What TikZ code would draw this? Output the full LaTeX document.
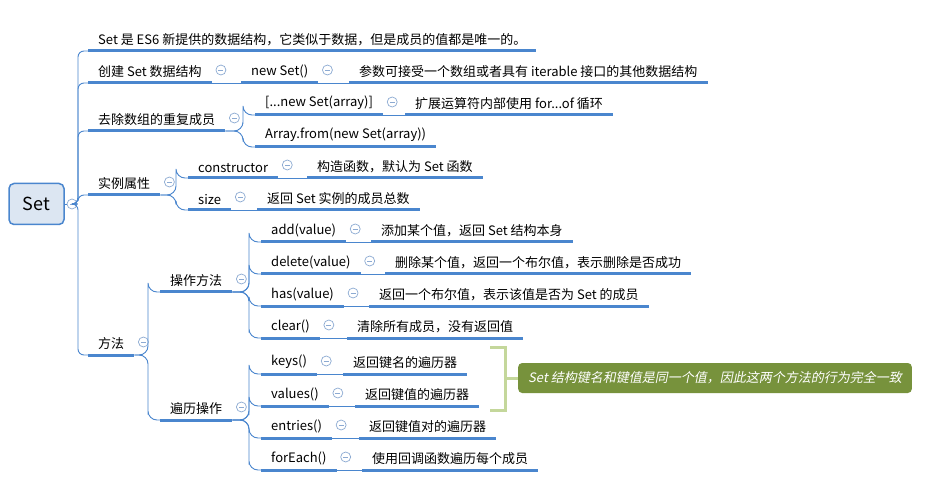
\documentclass[tikz,border=0pt]{standalone}
\usepackage{fontspec}
\setmainfont{Noto Sans CJK SC}
\newfontfamily\cjkit{Noto Sans CJK SC}[FakeSlant=0.2]
\usetikzlibrary{calc}
\definecolor{ublue}{RGB}{74,134,206}
\definecolor{tgray}{RGB}{140,170,210}
\definecolor{olive}{RGB}{119,146,60}
\definecolor{lgreen}{RGB}{196,215,155}
\tikzset{
  topic/.style={anchor=south west,inner xsep=10pt,inner ysep=5pt,font=\fontsize{13}{15}\selectfont},
  ul/.style={ublue,line width=3pt},
  conn/.style={ublue,line width=0.9pt},
  tog/.style={circle,draw=tgray,fill=white,minimum size=10pt,inner sep=0pt,line width=0.7pt,
    path picture={\draw[tgray,line width=0.7pt] ([xshift=-2.5pt]path picture bounding box.center) -- ([xshift=2.5pt]path picture bounding box.center);}},
}
\newcommand{\tp}[4]{\node[topic] (#1) at (#2,#3) {#4};\draw[ul] (#1.south west) -- (#1.south east);}
\newcommand{\tg}[1]{\node[tog] (#1T) at ($(#1.south east)+(9,-13)$) {};}
\newcommand{\lk}[3]{\draw[conn] (#1.south east) -- (#2.south west);}
\newcommand{\br}[3]{\draw[conn,rounded corners=9pt] (#1.south east) -| ($(#2.south west)+(-#3,0)$) |- (#2.south west);}
\begin{document}
\begin{tikzpicture}[x=1pt,y=-1pt]
\useasboundingbox[fill=white] (0,0) rectangle (926,486);
% root
\node[draw=ublue,fill={rgb,255:red,220;green,230;blue,242},line width=1.5pt,rounded corners=5pt,
  minimum width=55pt,minimum height=41pt,font=\fontsize{18}{20}\selectfont] (root) at (36.5,204) {Set};
\node[tog] (rootT) at (72,204) {};
\coordinate (trunk) at (78,204);
\draw[conn] (root.east) -- (rootT.west);
% level 1
\tp{a}{88}{51}{Set 是 ES6 新提供的数据结构，它类似于数据，但是成员的值都是唯一的。}
\tp{b}{88}{83}{创建 Set 数据结构}
\tp{c}{88}{131}{去除数组的重复成员}
\tp{d}{88}{195}{实例属性}
\tp{e}{88}{355}{方法}
\foreach \n in {a,b,c,d,e}{\draw[conn,rounded corners=6pt] (rootT.east) -- (trunk) |- (\n.south west);}
% b
\tg{b}
\tp{b1}{241}{83}{new Set()} \lk{b}{b1}{}
\tg{b1}
\tp{b2}{349}{83}{参数可接受一个数组或者具有 iterable 接口的其他数据结构} \lk{b1}{b2}{}
% c
\tg{c}
\tp{c1}{255}{115}{[...new Set(array)]} \br{c}{c1}{12}
\tp{c2}{255}{147}{Array.from(new Set(array))} \br{c}{c2}{12}
\tg{c1}
\tp{c3}{405}{115}{扩展运算符内部使用 for...of 循环} \lk{c1}{c3}{}
% d
\tg{d}
\tp{d1}{188}{178}{constructor} \br{d}{d1}{12}
\tp{d2}{188}{210}{size} \br{d}{d2}{12}
\tg{d1} \tg{d2}
\tp{d3}{307}{178}{构造函数，默认为 Set 函数} \lk{d1}{d3}{}
\tp{d4}{257}{210}{返回 Set 实例的成员总数} \lk{d2}{d4}{}
% e
\tg{e}
\tp{f}{160}{292}{操作方法} \br{e}{f}{12}
\tp{g}{160}{420}{遍历操作} \br{e}{g}{12}
\tg{f} \tg{g}
\tp{f1}{261}{242}{add(value)} \br{f}{f1}{12}
\tp{f2}{261}{274}{delete(value)} \br{f}{f2}{12}
\tp{f3}{261}{306}{has(value)} \br{f}{f3}{12}
\tp{f4}{261}{338}{clear()} \br{f}{f4}{12}
\tg{f1} \tg{f2} \tg{f3} \tg{f4}
\tp{f5}{371}{242}{添加某个值，返回 Set 结构本身} \lk{f1}{f5}{}
\tp{f6}{385}{274}{删除某个值，返回一个布尔值，表示删除是否成功} \lk{f2}{f6}{}
\tp{f7}{369}{306}{返回一个布尔值，表示该值是否为 Set 的成员} \lk{f3}{f7}{}
\tp{f8}{347}{338}{清除所有成员，没有返回值} \lk{f4}{f8}{}
\tp{g1}{261}{374}{keys()} \br{g}{g1}{12}
\tp{g2}{261}{406}{values()} \br{g}{g2}{12}
\tp{g3}{261}{438}{entries()} \br{g}{g3}{12}
\tp{g4}{261}{470}{forEach()} \br{g}{g4}{12}
\tg{g1} \tg{g2} \tg{g3} \tg{g4}
\tp{g5}{343}{374}{返回键名的遍历器} \lk{g1}{g5}{}
\tp{g6}{355}{406}{返回键值的遍历器} \lk{g2}{g6}{}
\tp{g7}{359}{438}{返回键值对的遍历器} \lk{g3}{g7}{}
\tp{g8}{362}{470}{使用回调函数遍历每个成员} \lk{g4}{g8}{}
% callout
\node[fill=olive,rounded corners=4pt,text=white,minimum height=30pt,inner xsep=10pt,
  font=\fontsize{13}{15}\selectfont\cjkit,anchor=west] (note) at (518,378)
  {Set 结构键名和键值是同一个值，因此这两个方法的行为完全一致};
\coordinate (bt) at (490,347);
\coordinate (bb) at (490,410);
\draw[lgreen,line width=3pt] (bt) -- ++(15,0) |- (bb);
\draw[lgreen,line width=3pt] (505,378) -- (note.west);
\end{tikzpicture}
\end{document}
